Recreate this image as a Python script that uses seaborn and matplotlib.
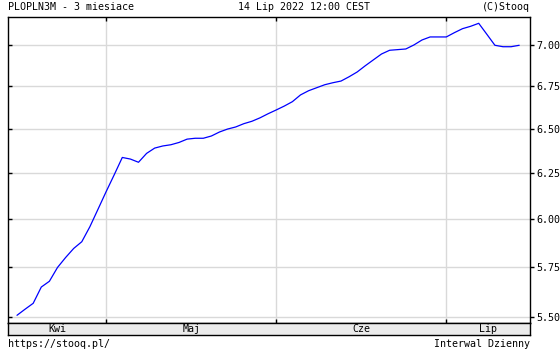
import numpy as np
import pandas as pd
import matplotlib
matplotlib.use("Agg")
import matplotlib.pyplot as plt
import matplotlib.ticker as mticker
import seaborn as sns

# ---- data ----
holidays = ["2022-04-18", "2022-05-03", "2022-06-16"]
dates = [d for d in pd.bdate_range("2022-04-14", "2022-07-14") if d.strftime("%Y-%m-%d") not in holidays]
values = [5.507, 5.537, 5.566, 5.647, 5.676, 5.746, 5.797, 5.844, 5.879, 5.958,
          6.051, 6.146, 6.239, 6.336, 6.327, 6.309, 6.359, 6.389, 6.401, 6.408,
          6.421, 6.440, 6.445, 6.445, 6.458, 6.481, 6.498, 6.510, 6.529, 6.543,
          6.563, 6.587, 6.609, 6.632, 6.658, 6.698, 6.723, 6.741, 6.759, 6.771,
          6.781, 6.807, 6.836, 6.874, 6.910, 6.946, 6.969, 6.973, 6.977, 7.002,
          7.033, 7.052, 7.052, 7.052, 7.079, 7.104, 7.119, 7.138, 7.069, 7.000,
          6.991, 6.991, 7.000]
month_names = {4: "Kwi", 5: "Maj", 6: "Cze", 7: "Lip"}
y_ticks = [5.50, 5.75, 6.00, 6.25, 6.50, 6.75, 7.00]
title_left = "PLOPLN3M - 3 miesiace"
title_mid = "14 Lip 2022 12:00 CEST"
title_right = "(C)Stooq"
footer_left = "https://stooq.pl/"
footer_right = "Interwal Dzienny"

df = pd.DataFrame({"idx": np.arange(len(values)), "date": dates, "value": values})

sns.set_style("white")
plt.rcParams["font.family"] = ["DejaVu Sans Mono"]
plt.rcParams["text.color"] = "black"
plt.rcParams["xtick.color"] = "black"
plt.rcParams["ytick.color"] = "black"
plt.rcParams["xtick.labelcolor"] = "black"
plt.rcParams["ytick.labelcolor"] = "black"
FS = 7.2

W, H = 560, 350
fig = plt.figure(figsize=(W / 100, H / 100), dpi=100)
fig.patch.set_facecolor("white")

L, R, T, B = 8, 529.5, 16.7, 323.3
ax = fig.add_axes([L / W, 1 - B / H, (R - L) / W, (B - T) / H])
sns.lineplot(data=df, x="idx", y="value", ax=ax, color="#0000ff", linewidth=0.9)

xl = (-1.11, len(values) - 1 + 1.27)
ax.set_xlim(*xl)
ax.set_yscale("log")
ylim = (5.468, 7.180)
ax.set_ylim(*ylim)

# month boundaries: first trading day of each month
months = df["date"].dt.month.values
starts = [i for i in range(1, len(months)) if months[i] != months[i - 1]]

ax.set_xticks(starts)
ax.set_xticklabels([])
ax.set_yticks(y_ticks)
ax.yaxis.set_minor_locator(mticker.NullLocator())
ax.set_yticklabels([])
ax.grid(True, color="#d9d9d9", linewidth=1.0)
ax.set_xlabel("")
ax.set_ylabel("")
ax.tick_params(axis="x", direction="in", length=3, width=1, top=True, bottom=True, color="black")
ax.tick_params(axis="y", direction="in", length=3, width=1, left=True, right=False, color="black")
for s in ax.spines.values():
    s.set_color("black")
    s.set_linewidth(1.0)

ax2 = ax.twinx()
ax2.set_yscale("log")
ax2.set_ylim(*ylim)
ax2.set_yticks(y_ticks)
ax2.yaxis.set_minor_locator(mticker.NullLocator())
ax2.set_yticklabels([f"{v:.2f}" for v in y_ticks], fontsize=FS, color="black")
ax2.tick_params(axis="y", direction="out", length=3, width=1, pad=2, color="black")
ax2.grid(False)
for s in ax2.spines.values():
    s.set_visible(False)

# month strip
SB = 335.3
axs = fig.add_axes([L / W, 1 - SB / H, (R - L) / W, (SB - B) / H])
axs.set_facecolor("#ebebeb")
axs.set_xlim(*xl)
axs.set_ylim(0, 1)
axs.set_xticks([])
axs.set_yticks([])
for s in axs.spines.values():
    s.set_color("black")
    s.set_linewidth(1.0)
bounds = [xl[0]] + starts + [xl[1]]
month_seq = [months[0]] + [months[i] for i in starts]
for a, b, m in zip(bounds[:-1], bounds[1:], month_seq):
    axs.text((a + b) / 2, 0.5, month_names[m], ha="center", va="center", fontsize=FS, color="black")

# header / footer
fig.text(L / W, 1 - 7.3 / H, title_left, ha="left", va="center", fontsize=FS, color="black")
fig.text(304 / W, 1 - 7.3 / H, title_mid, ha="center", va="center", fontsize=FS, color="black")
fig.text(R / W, 1 - 7.3 / H, title_right, ha="right", va="center", fontsize=FS, color="black")
fig.text(L / W, 1 - 344 / H, footer_left, ha="left", va="center", fontsize=FS, color="black")
fig.text(R / W, 1 - 344 / H, footer_right, ha="right", va="center", fontsize=FS, color="black")

fig.savefig("out.png", dpi=100, facecolor="white")
